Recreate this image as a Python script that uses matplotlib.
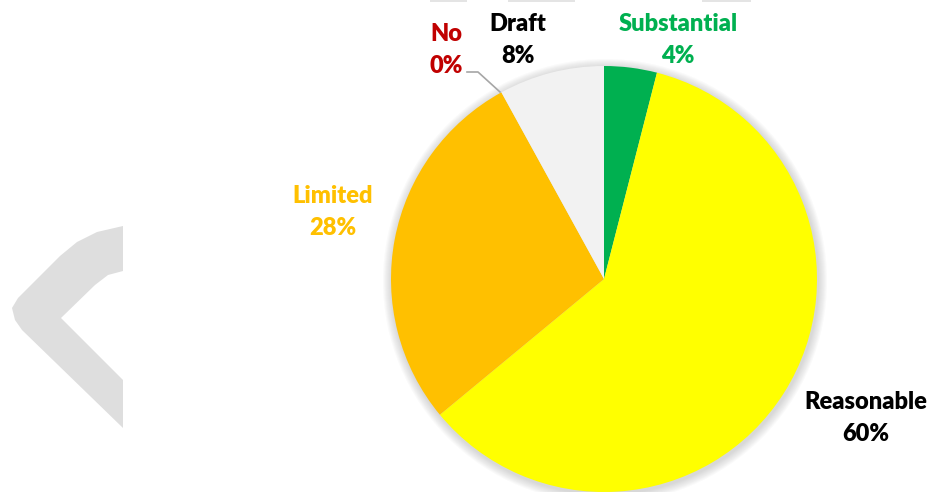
import matplotlib.pyplot as plt
from matplotlib.patches import Circle, Polygon, Rectangle

# Datos del gráfico (sentido horario desde arriba)
categories = ["Substantial", "Reasonable", "Limited", "No", "Draft"]
shares = [4, 60, 28, 0, 8]
slice_colors = ["#00B050", "#FFFF00", "#FFC000", "#C00000", "#F2F2F2"]
label_colors = ["#00B050", "#000000", "#FFC000", "#C00000", "#000000"]

W, H = 932, 492
CX, CY, R = 604, 279, 213

# posiciones de las etiquetas (px, y hacia abajo)
label_pos = {
    "Substantial": (678, 40),
    "Reasonable": (866, 418),
    "Limited": (333, 212),
    "No": (446, 50),
    "Draft": (518, 40),
}

plt.rcParams["font.family"] = ["Lato", "DejaVu Sans"]

fig = plt.figure(figsize=(W / 100, H / 100), dpi=100)
ax = fig.add_axes([0, 0, 1, 1])


def Y(y):
    return H - y


# ----------------------------------------------------------------------
# Decoración de fondo (marca de agua)
# ----------------------------------------------------------------------
chevron = [
    (123, 226), (97, 232), (77, 242), (60, 256), (18, 298),
    (12, 308), (15, 320), (22, 330), (123, 428), (123, 380), (61, 318),
    (95, 285), (108, 275), (123, 271),
]
ax.add_patch(Polygon([(x, Y(y)) for x, y in chevron], closed=True,
                     facecolor="#DEDEDE", edgecolor="none", zorder=0))
for x0, x1 in [(430, 467), (508, 575), (702, 751)]:
    ax.add_patch(Rectangle((x0, Y(2)), x1 - x0, 2, facecolor="#E4E4E4",
                           edgecolor="none", zorder=0))

# sombra suave alrededor del pastel
for k in range(9, 0, -1):
    ax.add_patch(Circle((CX + 1, Y(CY + 2)), R + k, facecolor="#7F7F7F",
                        edgecolor="none", alpha=0.035, zorder=1))

ax.pie(
    shares,
    colors=slice_colors,
    startangle=90,
    counterclock=False,
    center=(CX, Y(CY)),
    radius=R,
    wedgeprops={"linewidth": 0, "zorder": 2},
    frame=True,
)
ax.set_xlim(0, W)
ax.set_ylim(0, H)
ax.set_aspect("equal")
ax.axis("off")

for cat, val, col in zip(categories, shares, label_colors):
    x, y = label_pos[cat]
    ax.text(x, Y(y), f"{cat}\n{val}%", color=col, fontsize=17,
            fontweight="heavy", ha="center", va="center", linespacing=1.6,
            zorder=5)

# línea guía de "No"
ax.plot([467, 478, 500], [Y(72), Y(72), Y(92)], color="#A6A6A6",
        linewidth=1.2, zorder=4)

fig.savefig("out.png", dpi=100)
